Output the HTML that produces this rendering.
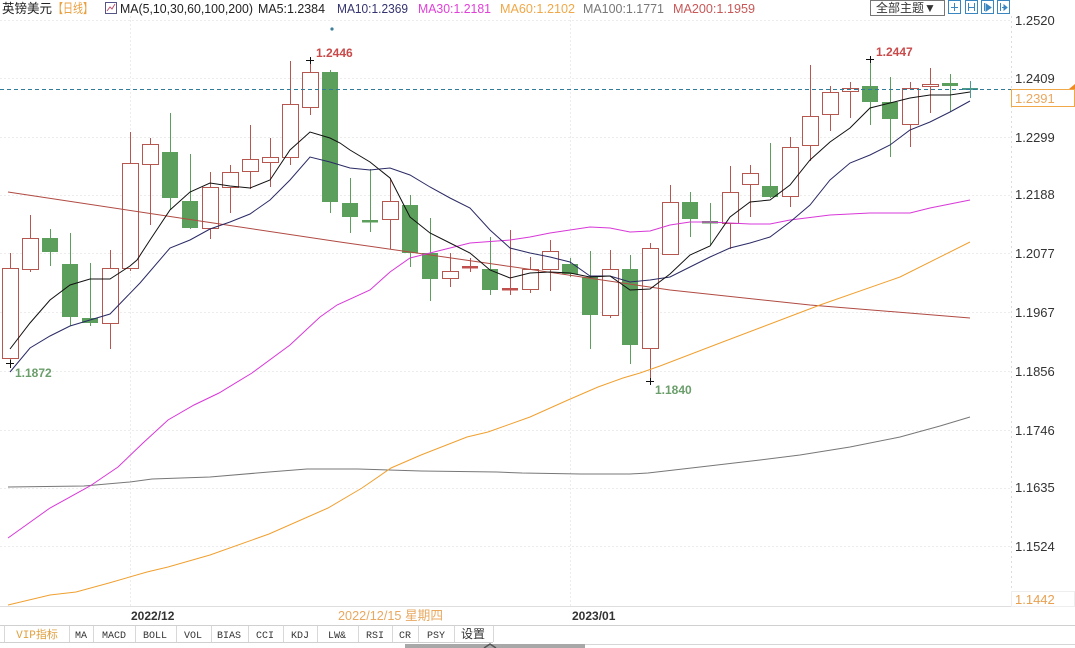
<!DOCTYPE html>
<html><head><meta charset="utf-8">
<style>
html,body{margin:0;padding:0;background:#fff;}
svg{display:block;}
text{font-family:"Liberation Sans","Noto Sans CJK SC",sans-serif;}
.mono text{font-family:"Liberation Mono","Noto Sans CJK SC",monospace;}
</style></head>
<body>
<svg width="1075" height="648" viewBox="0 0 1075 648" xmlns="http://www.w3.org/2000/svg">
<rect x="0" y="0" width="1075" height="648" fill="#fff"/>
<!-- grid -->
<g stroke="#ececec" stroke-width="1" stroke-dasharray="2,2">
<line x1="0" y1="20.5" x2="1011" y2="20.5"/>
<line x1="0" y1="78.5" x2="1011" y2="78.5"/>
<line x1="0" y1="137.5" x2="1011" y2="137.5"/>
<line x1="0" y1="195.5" x2="1011" y2="195.5"/>
<line x1="0" y1="253.5" x2="1011" y2="253.5"/>
<line x1="0" y1="312.5" x2="1011" y2="312.5"/>
<line x1="0" y1="371.5" x2="1011" y2="371.5"/>
<line x1="0" y1="430.5" x2="1011" y2="430.5"/>
<line x1="0" y1="488.5" x2="1011" y2="488.5"/>
<line x1="0" y1="546.5" x2="1011" y2="546.5"/>
<line x1="130.5" y1="16" x2="130.5" y2="607"/>
<line x1="570.5" y1="16" x2="570.5" y2="607"/>
</g>
<line x1="1011.5" y1="16" x2="1011.5" y2="607" stroke="#dcdcdc" stroke-dasharray="2,3"/>
<line x1="0" y1="606.5" x2="1075" y2="606.5" stroke="#dedede"/>

<!-- up candles (hollow) -->
<g stroke="#b5564f" stroke-width="1" fill="#fff">
<line x1="10.5" y1="253" x2="10.5" y2="363"/><rect x="2.5" y="268.5" width="16" height="90"/>
<line x1="30.5" y1="215" x2="30.5" y2="272"/><rect x="22.5" y="238.5" width="16" height="31"/>
<line x1="110.5" y1="250" x2="110.5" y2="349"/><rect x="102.5" y="268.5" width="16" height="55"/>
<line x1="130.5" y1="132" x2="130.5" y2="271"/><rect x="122.5" y="163.5" width="16" height="105"/>
<line x1="150.5" y1="138" x2="150.5" y2="225"/><rect x="142.5" y="144.5" width="16" height="20"/>
<line x1="210.5" y1="172" x2="210.5" y2="239"/><rect x="202.5" y="187.5" width="16" height="41"/>
<line x1="230.5" y1="165" x2="230.5" y2="213"/><rect x="222.5" y="172.5" width="16" height="15"/>
<line x1="250.5" y1="125" x2="250.5" y2="189"/><rect x="242.5" y="159.5" width="16" height="12"/>
<line x1="270.5" y1="138" x2="270.5" y2="187"/><rect x="262.5" y="157.5" width="16" height="5"/>
<line x1="290.5" y1="61" x2="290.5" y2="165"/><rect x="282.5" y="104.5" width="16" height="53"/>
<line x1="310.5" y1="60" x2="310.5" y2="115"/><rect x="302.5" y="72.5" width="16" height="35"/>
<line x1="390.5" y1="178" x2="390.5" y2="249"/><rect x="382.5" y="201.5" width="16" height="18"/>
<line x1="450.5" y1="253" x2="450.5" y2="287"/><rect x="442.5" y="271.5" width="16" height="7"/>
<line x1="530.5" y1="257" x2="530.5" y2="293"/><rect x="522.5" y="269.5" width="16" height="20"/>
<line x1="550.5" y1="240" x2="550.5" y2="291"/><rect x="542.5" y="251.5" width="16" height="18"/>
<line x1="610.5" y1="250" x2="610.5" y2="318"/><rect x="602.5" y="269.5" width="16" height="46"/>
<line x1="650.5" y1="243" x2="650.5" y2="382"/><rect x="642.5" y="248.5" width="16" height="100"/>
<line x1="670.5" y1="185" x2="670.5" y2="254"/><rect x="662.5" y="202.5" width="16" height="52"/>
<line x1="730.5" y1="166" x2="730.5" y2="249"/><rect x="722.5" y="192.5" width="16" height="31"/>
<line x1="750.5" y1="165" x2="750.5" y2="217"/><rect x="742.5" y="173.5" width="16" height="11"/>
<line x1="790.5" y1="137" x2="790.5" y2="207"/><rect x="782.5" y="147.5" width="16" height="49"/>
<line x1="810.5" y1="65" x2="810.5" y2="161"/><rect x="802.5" y="116.5" width="16" height="29"/>
<line x1="830.5" y1="86" x2="830.5" y2="131"/><rect x="822.5" y="92.5" width="16" height="22"/>
<line x1="850.5" y1="82" x2="850.5" y2="118"/><rect x="842.5" y="88.5" width="16" height="3"/>
<line x1="910.5" y1="82" x2="910.5" y2="147"/><rect x="902.5" y="88.5" width="16" height="36"/>
<line x1="930.5" y1="68" x2="930.5" y2="113"/><rect x="922.5" y="84.5" width="16" height="2"/>
</g>
<!-- red doji -->
<g stroke="#c0504d" fill="#c0504d">
<line x1="470.5" y1="258" x2="470.5" y2="272"/><rect x="462" y="266" width="16" height="2.5" stroke="none"/>
<line x1="510.5" y1="230" x2="510.5" y2="295"/><rect x="502" y="288" width="16" height="2.5" stroke="none"/>
</g>
<!-- down candles (green) -->
<g stroke="#5c9f5c" fill="#5c9f5c">
<line x1="50.5" y1="229" x2="50.5" y2="266"/><rect x="42" y="238" width="16" height="14" stroke="none"/>
<line x1="70.5" y1="233" x2="70.5" y2="326"/><rect x="62" y="264" width="16" height="53" stroke="none"/>
<line x1="90.5" y1="263" x2="90.5" y2="326"/><rect x="82" y="318" width="16" height="5" stroke="none"/>
<line x1="170.5" y1="113" x2="170.5" y2="210"/><rect x="162" y="152" width="16" height="46" stroke="none"/>
<line x1="190.5" y1="154" x2="190.5" y2="229"/><rect x="182" y="201" width="16" height="27" stroke="none"/>
<line x1="330.5" y1="70" x2="330.5" y2="213"/><rect x="322" y="72" width="16" height="130" stroke="none"/>
<line x1="350.5" y1="178" x2="350.5" y2="233"/><rect x="342" y="203" width="16" height="14" stroke="none"/>
<line x1="370.5" y1="169" x2="370.5" y2="232"/><rect x="362" y="220" width="16" height="2.5" stroke="none"/>
<line x1="410.5" y1="195" x2="410.5" y2="267"/><rect x="402" y="205" width="16" height="48" stroke="none"/>
<line x1="430.5" y1="218" x2="430.5" y2="301"/><rect x="422" y="253" width="16" height="26" stroke="none"/>
<line x1="490.5" y1="237" x2="490.5" y2="295"/><rect x="482" y="269" width="16" height="21" stroke="none"/>
<line x1="570.5" y1="258" x2="570.5" y2="277"/><rect x="562" y="264" width="16" height="10" stroke="none"/>
<line x1="590.5" y1="251" x2="590.5" y2="349"/><rect x="582" y="277" width="16" height="38" stroke="none"/>
<line x1="630.5" y1="255" x2="630.5" y2="364"/><rect x="622" y="269" width="16" height="76" stroke="none"/>
<line x1="690.5" y1="192" x2="690.5" y2="237"/><rect x="682" y="202" width="16" height="17" stroke="none"/>
<line x1="710.5" y1="203" x2="710.5" y2="245"/><rect x="702" y="221" width="16" height="2.5" stroke="none"/>
<line x1="770.5" y1="143" x2="770.5" y2="198"/><rect x="762" y="186" width="16" height="11" stroke="none"/>
<line x1="870.5" y1="59" x2="870.5" y2="125"/><rect x="862" y="86" width="16" height="16" stroke="none"/>
<line x1="890.5" y1="77" x2="890.5" y2="157"/><rect x="882" y="102" width="16" height="17" stroke="none"/>
<line x1="950.5" y1="74" x2="950.5" y2="112"/><rect x="942" y="83" width="16" height="3" stroke="none"/>
</g>
<g stroke="#4e9a8a" fill="#4e9a8a">
<line x1="970.5" y1="81" x2="970.5" y2="98"/><rect x="962" y="88" width="16" height="2" stroke="none"/>
</g>

<!-- MA lines -->
<polyline fill="none" stroke="#b04a42" stroke-width="1" points="8,192 200,221 340,242 500,265 670,290 810,305 970,318"/>
<polyline fill="none" stroke="#777" stroke-width="1" points="8,487 84,486 130,482 152,479 210,477 269,472 307,469 358,469 421,471 497,472 522,473 581,474 630,474 648,473 700,467 760,460 800,455 850,447 900,437 940,426 970,417"/>
<polyline fill="none" stroke="#f0a030" stroke-width="1" points="8,605 50,595 76,592 109,583 147,572 168,567 210,555 269,534 328,508 362,488 391,468 421,455 467,437 488,432 530,417 568,400 598,387 623,378 640,373 660,366 720,343 820,305 900,277 970,242"/>
<polyline fill="none" stroke="#d838d8" stroke-width="1" points="8,538 50,508 90,486 118,467 143,443 168,420 194,405 219,393 252,373 290,345 320,317 337,305 370,290 390,272 410,258 430,253 450,248 470,243 510,240 530,237 550,233 570,230 590,227 610,228 630,232 650,231 670,225 690,222 710,222 730,223 750,224 770,224 790,220 830,215 870,213 910,213 930,208 970,200"/>
<polyline fill="none" stroke="#2a2a66" stroke-width="1" points="10,372 30,348 50,336 70,326 90,320 110,314 140,283 170,248 190,240 210,229 230,222 250,214 270,200 290,180 310,157 330,162 350,168 370,170 390,168 410,175 430,187 450,198 470,208 490,230 510,248 530,253 550,257 570,262 590,276 610,276 630,282 650,280 670,277 690,267 710,257 730,248 750,243 770,237 790,222 810,205 830,180 850,163 870,155 890,145 910,130 930,122 950,112 970,101"/>
<polyline fill="none" stroke="#111" stroke-width="1" points="10,349 30,323 50,300 70,285 90,279 110,279 130,266 137,260 150,240 170,210 190,192 210,183 230,186 250,188 270,180 290,150 310,132 330,138 340,143 350,150 370,162 390,178 410,217 430,233 450,243 470,253 490,270 510,278 530,273 550,272 570,273 590,277 610,276 630,290 650,289 670,274 690,255 710,246 730,217 750,202 770,200 790,185 810,160 830,142 850,128 870,108 890,103 910,98 930,95 950,95 970,92"/>

<!-- current price dashed line -->
<line x1="0" y1="89.5" x2="1012" y2="89.5" stroke="#2f7d9b" stroke-width="1" stroke-dasharray="4,3"/>

<!-- extreme markers -->
<g stroke="#111" stroke-width="1">
<line x1="6" y1="363.5" x2="14" y2="363.5"/><line x1="10.5" y1="360" x2="10.5" y2="368"/>
<line x1="306" y1="60.5" x2="314" y2="60.5"/><line x1="310.5" y1="57" x2="310.5" y2="64"/>
<line x1="866" y1="59.5" x2="874" y2="59.5"/><line x1="870.5" y1="56" x2="870.5" y2="63"/>
<line x1="646" y1="381.5" x2="654" y2="381.5"/><line x1="650.5" y1="378" x2="650.5" y2="385"/>
</g>
<circle cx="332" cy="29" r="1.6" fill="#3d7f99"/>
<g font-size="12" font-weight="bold">
<text x="15" y="377" fill="#6a9e6a">1.1872</text>
<text x="316" y="57" fill="#c94a4a">1.2446</text>
<text x="876" y="56" fill="#c94a4a">1.2447</text>
<text x="655" y="394" fill="#6a9e6a">1.1840</text>
</g>

<!-- header -->
<g font-size="13">
<text x="2" y="13" fill="#222" textLength="50" lengthAdjust="spacingAndGlyphs">英镑美元</text>
<text x="53" y="13" fill="#e8a040" textLength="40" lengthAdjust="spacingAndGlyphs">【日线】</text>
<text x="120" y="13" fill="#222" textLength="133" lengthAdjust="spacingAndGlyphs">MA(5,10,30,60,100,200)</text>
<text x="258" y="13" fill="#222" textLength="67" lengthAdjust="spacingAndGlyphs">MA5:1.2384</text>
<text x="337" y="13" fill="#33336f" textLength="71" lengthAdjust="spacingAndGlyphs">MA10:1.2369</text>
<text x="418" y="13" fill="#e040d8" textLength="73" lengthAdjust="spacingAndGlyphs">MA30:1.2181</text>
<text x="500" y="13" fill="#f0a848" textLength="75" lengthAdjust="spacingAndGlyphs">MA60:1.2102</text>
<text x="583" y="13" fill="#777" textLength="81" lengthAdjust="spacingAndGlyphs">MA100:1.1771</text>
<text x="673" y="13" fill="#c85858" textLength="82" lengthAdjust="spacingAndGlyphs">MA200:1.1959</text>
</g>
<g>
<rect x="105.5" y="2.5" width="11" height="11" fill="#fff" stroke="#55558a"/>
<polyline points="107,11 110,7 112,9 115,4" fill="none" stroke="#c05070" stroke-width="1"/>
</g>
<!-- top right controls -->
<rect x="870.5" y="0.5" width="74" height="15" fill="#fff" stroke="#777"/>
<text x="876" y="12" font-size="12" fill="#333">全部主题▼</text>
<g fill="#fff" stroke="#3a86c0">
<rect x="948.5" y="0.5" width="12" height="13"/>
<rect x="965.5" y="0.5" width="12" height="13"/>
<rect x="981.5" y="0.5" width="12" height="13"/>
<rect x="997.5" y="0.5" width="12" height="13"/>
</g>
<g stroke="#3a86c0" stroke-width="1" fill="none">
<line x1="954.5" y1="3" x2="954.5" y2="11"/><line x1="951" y1="7.5" x2="958" y2="7.5"/>
<line x1="968.5" y1="3" x2="968.5" y2="11"/><line x1="974.5" y1="3" x2="974.5" y2="11"/><line x1="968" y1="7.5" x2="975" y2="7.5"/>
<line x1="984.5" y1="3" x2="984.5" y2="11"/><polygon points="986,4 991,7.5 986,11" fill="#3a86c0"/>
<line x1="1000.5" y1="3" x2="1000.5" y2="11"/><line x1="1002" y1="7.5" x2="1007" y2="7.5"/><polygon points="1004,5 1007,7.5 1004,10" fill="#3a86c0"/>
</g>

<!-- right axis labels -->
<g font-size="13" fill="#333">
<text x="1015" y="25">1.2520</text>
<text x="1015" y="83">1.2409</text>
<text x="1015" y="142">1.2299</text>
<text x="1015" y="199">1.2188</text>
<text x="1015" y="258">1.2077</text>
<text x="1015" y="317">1.1967</text>
<text x="1015" y="376">1.1856</text>
<text x="1015" y="435">1.1746</text>
<text x="1015" y="492">1.1635</text>
<text x="1015" y="551">1.1524</text>
</g>
<rect x="1011.5" y="89.5" width="63" height="17" fill="#fff" stroke="#f0a848"/>
<text x="1015" y="103" font-size="13" fill="#e8a860">1.2391</text>
<polygon points="1069,89 1075,84 1075,89" fill="#f08a20"/>
<rect x="1011.5" y="591.5" width="63" height="15" fill="#fff" stroke="#eee"/>
<text x="1015" y="604" font-size="13" fill="#e8a050">1.1442</text>

<!-- date row -->
<text x="131" y="620" font-size="12" font-weight="bold" fill="#333">2022/12</text>
<text x="338" y="620" font-size="13" fill="#e8a860" textLength="105" lengthAdjust="spacingAndGlyphs">2022/12/15 星期四</text>
<text x="572" y="620" font-size="12" font-weight="bold" fill="#333">2023/01</text>

<!-- toolbar -->
<line x1="0" y1="625.5" x2="1075" y2="625.5" stroke="#d0d0d0"/>
<line x1="0" y1="642.5" x2="493" y2="642.5" stroke="#d0d0d0"/>
<g stroke="#d8d8d8">
<line x1="4.5" y1="626" x2="4.5" y2="642"/>
<line x1="69.5" y1="626" x2="69.5" y2="642"/>
<line x1="93.5" y1="626" x2="93.5" y2="642"/>
<line x1="135.5" y1="626" x2="135.5" y2="642"/>
<line x1="176.5" y1="626" x2="176.5" y2="642"/>
<line x1="211.5" y1="626" x2="211.5" y2="642"/>
<line x1="248.5" y1="626" x2="248.5" y2="642"/>
<line x1="283.5" y1="626" x2="283.5" y2="642"/>
<line x1="317.5" y1="626" x2="317.5" y2="642"/>
<line x1="358.5" y1="626" x2="358.5" y2="642"/>
<line x1="392.5" y1="626" x2="392.5" y2="642"/>
<line x1="418.5" y1="626" x2="418.5" y2="642"/>
<line x1="454.5" y1="626" x2="454.5" y2="642"/>
<line x1="493.5" y1="626" x2="493.5" y2="642"/>
</g>
<g class="mono" font-size="10" fill="#333" text-anchor="middle">
<text x="37" y="638" fill="#e0a040" font-size="11">VIP指标</text>
<text x="81" y="638">MA</text>
<text x="114" y="638">MACD</text>
<text x="155" y="638">BOLL</text>
<text x="193" y="638">VOL</text>
<text x="229" y="638">BIAS</text>
<text x="265" y="638">CCI</text>
<text x="300" y="638">KDJ</text>
<text x="337" y="638">LW&amp;</text>
<text x="375" y="638">RSI</text>
<text x="405" y="638">CR</text>
<text x="436" y="638">PSY</text>
<text x="473" y="638" font-size="12">设置</text>
</g>
<!-- scrollbar -->
<line x1="405" y1="644.5" x2="1075" y2="644.5" stroke="#d6d6d6"/>
<rect x="405" y="644" width="180" height="4" fill="#a8a8a8"/>
<polyline points="484,648 490,644 496,648" fill="none" stroke="#555" stroke-width="1.5"/>
</svg>
</body></html>
